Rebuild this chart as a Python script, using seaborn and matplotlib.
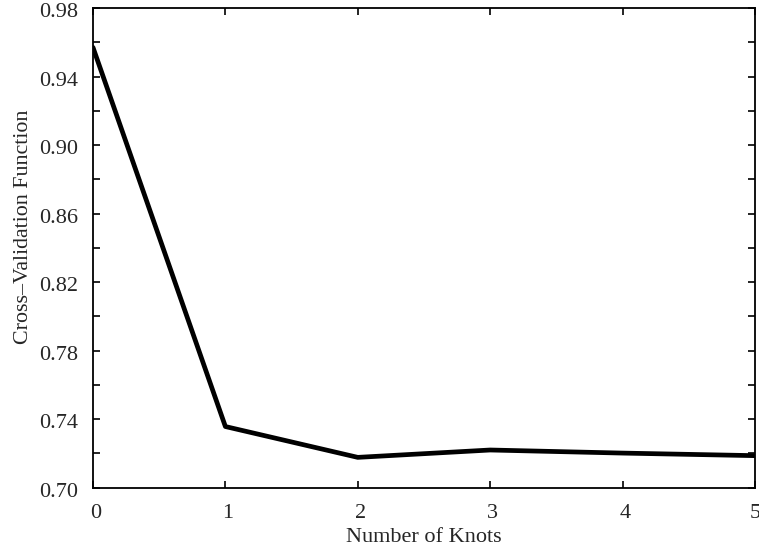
import matplotlib
matplotlib.use("Agg")
import matplotlib.pyplot as plt
import matplotlib.transforms as mtransforms
from matplotlib.ticker import MultipleLocator
import seaborn as sns
import pandas as pd

# Cross-validation score against number of spline knots
knots = [0, 1, 2, 3, 4, 5]
cv_values = [0.957, 0.7357, 0.7177, 0.7220, 0.7202, 0.7187]
y_ticks = [0.70, 0.74, 0.78, 0.82, 0.86, 0.90, 0.94, 0.98]
y_tick_labels = ["0.70", "0.74", "0.78", "0.82", "0.86", "0.90", "0.94", "0.98"]

sns.set_style("ticks")
plt.rcParams["font.family"] = ["Liberation Serif", "DejaVu Serif"]

df = pd.DataFrame({"knots": knots, "cv": cv_values})

fig = plt.figure(figsize=(7.59, 5.52), dpi=100)
ax = fig.add_axes([0.1225, 0.1165, 0.8722, 0.869])

sns.lineplot(data=df, x="knots", y="cv", color="black", linewidth=3.4, ax=ax)

ax.set_xlim(0, 5)
ax.set_ylim(0.70, 0.98)
ax.set_xticks(knots)
ax.set_xticklabels([str(k) for k in knots], fontsize=16)
ax.set_yticks(y_ticks)
ax.set_yticklabels(y_tick_labels, fontsize=16)
ax.yaxis.set_minor_locator(MultipleLocator(0.02))

ax.tick_params(axis="both", which="both", direction="in", top=True, right=True,
               length=5, width=1.2, color="black")
ax.tick_params(axis="y", which="major", pad=11)
ax.tick_params(axis="x", which="major", pad=12)

# nudge x tick labels slightly right (the last one stays inside the figure)
shift_x = mtransforms.ScaledTranslation(2.5 / 100, 0, fig.dpi_scale_trans)
for lbl in ax.get_xticklabels()[:-1]:
    lbl.set_transform(lbl.get_transform() + shift_x)
# and the y tick labels slightly down
shift_y = mtransforms.ScaledTranslation(0, -2 / 100, fig.dpi_scale_trans)
for lbl in ax.get_yticklabels():
    lbl.set_transform(lbl.get_transform() + shift_y)

for side in ["left", "right", "top", "bottom"]:
    ax.spines[side].set_visible(True)
    ax.spines[side].set_linewidth(1.3)
    ax.spines[side].set_color("black")

ax.set_xlabel("Number of Knots", fontsize=16, labelpad=3)
ax.set_ylabel("Cross\u2013Validation Function", fontsize=15.8)
ax.yaxis.set_label_coords(-0.0906, 0.543)

fig.savefig("out.png", dpi=100)
